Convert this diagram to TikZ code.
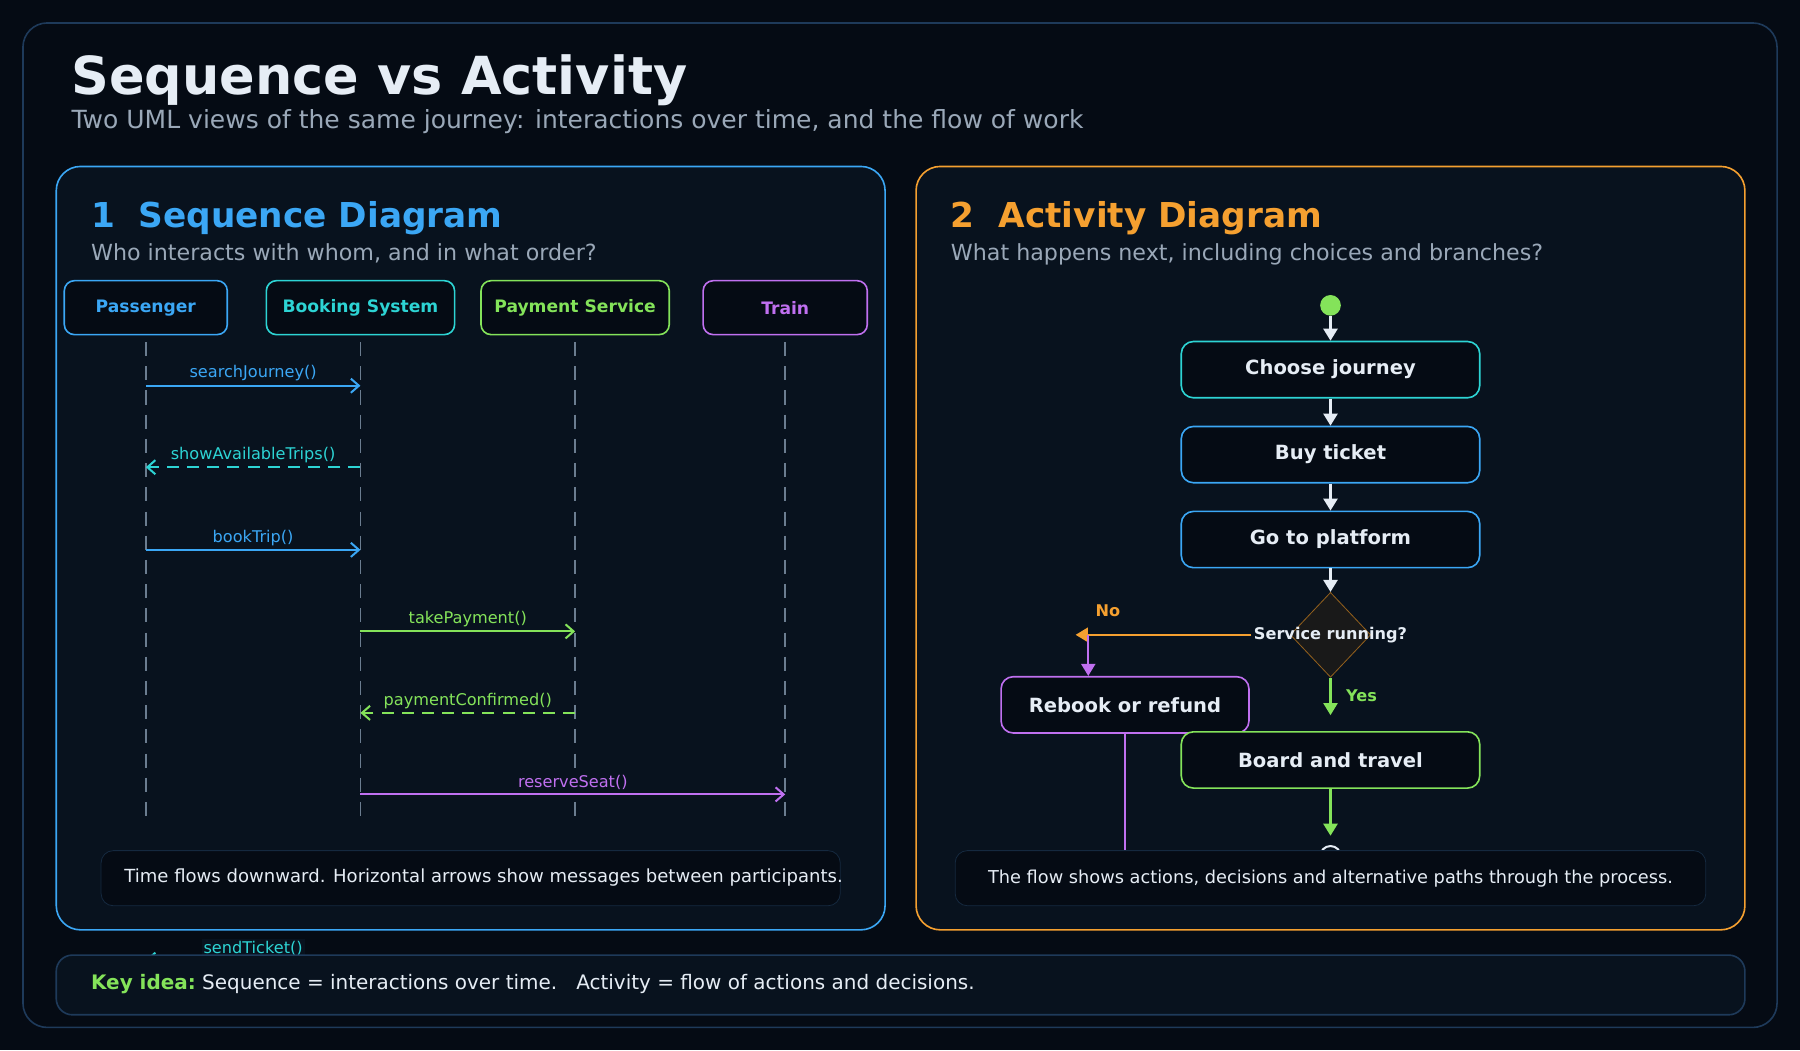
\documentclass[tikz,border=0pt]{standalone}
\usepackage{fontspec}
\setmainfont{DejaVu Sans}
\usetikzlibrary{arrows.meta,shapes.geometric,positioning}
\definecolor{bgdark}{HTML}{050B14}
\definecolor{panel}{HTML}{08121E}
\definecolor{edge}{HTML}{1E3A5A}
\definecolor{seqblue}{HTML}{3BA7F5}
\definecolor{seqcyan}{HTML}{2DD4D4}
\definecolor{seqgreen}{HTML}{84E35A}
\definecolor{seqpurple}{HTML}{C070F0}
\definecolor{actorange}{HTML}{F5A030}
\definecolor{txtwhite}{HTML}{E6EDF5}
\definecolor{txtgrey}{HTML}{9AA8B8}
\definecolor{lifegrey}{HTML}{6B7D90}
\tikzset{
  Actor/.style = {draw=#1,text=#1,fill=bgdark,rounded corners=5pt,line width=0.8pt,
                  minimum height=0.94cm,inner sep=0pt,font=\fontsize{8.5}{10}\selectfont\bfseries},
  Action/.style = {draw=#1,text=txtwhite,fill=bgdark,rounded corners=6pt,line width=0.8pt,
                  minimum width=5.2cm,minimum height=0.98cm,inner sep=0pt,font=\fontsize{9.7}{11}\selectfont\bfseries},
  Msg/.style = {draw=#1,line width=1pt,-{Straight Barb[length=4pt,width=7pt]}},
  call/.style = {solid},
  reply/.style = {dash pattern=on 6pt off 4pt},
  MsgLabel/.style = {text=#1,font=\fontsize{8}{9}\selectfont,inner sep=1pt},
  Flow/.style = {draw=#1,line width=1.2pt,-{Triangle[length=6pt,width=7pt]}},
  Note/.style = {draw=edge!70!black,fill=bgdark,rounded corners=6pt,text=txtwhite,
                 minimum height=0.96cm,inner sep=0pt},
}
\begin{document}
\begin{tikzpicture}[x=0.02cm,y=-0.02cm]
  \useasboundingbox[fill=bgdark] (0,0) rectangle (1568,915);
  % frame
  \draw[edge,fill=bgdark,line width=0.8pt,rounded corners=12pt] (20,20) rectangle (1548,895);
  \node[anchor=base west,text=txtwhite,font=\fontsize{26}{30}\selectfont\bfseries,inner sep=0pt] (title) at (62,82) {Sequence vs Activity};
  \node[anchor=base west,text=txtgrey,font=\fontsize{12.4}{14}\selectfont,inner sep=0pt] (subtitle) at (62,112) {Two UML views of the same journey: interactions over time, and the flow of work};
  % panels
  \draw[seqblue,fill=panel,line width=0.8pt,rounded corners=12pt] (49,145) rectangle (771,810);
  \draw[actorange,fill=panel,line width=0.8pt,rounded corners=12pt] (798,145) rectangle (1520,810);
  \node[anchor=base west,text=seqblue,font=\fontsize{17}{20}\selectfont\bfseries,inner sep=0pt] (seqhead) at (79,198) {1\ \ Sequence Diagram};
  \node[anchor=base west,text=txtgrey,font=\fontsize{11}{13}\selectfont,inner sep=0pt] (seqsub) at (79,227) {Who interacts with whom, and in what order?};
  \node[anchor=base west,text=actorange,font=\fontsize{17}{20}\selectfont\bfseries,inner sep=0pt] (acthead) at (828,198) {2\ \ Activity Diagram};
  \node[anchor=base west,text=txtgrey,font=\fontsize{11}{13}\selectfont,inner sep=0pt] (actsub) at (828,227) {What happens next, including choices and branches?};
  % participants
  \node[Actor=seqblue,minimum width=2.84cm] (pas) at (127,268) {Passenger};
  \node[Actor=seqcyan,minimum width=3.28cm] (bks) at (314,268) {Booking System};
  \node[Actor=seqgreen,minimum width=3.28cm] (pay) at (501,268) {Payment Service};
  \node[Actor=seqpurple,minimum width=2.86cm] (trn) at (684,268) {Train};
  \foreach \p/\x in {pas/127,bks/314,pay/501,trn/684}{
    \coordinate (\p top) at (\x,298);
    \coordinate (\p bot) at (\x,712);
    \draw[lifegrey,line width=0.8pt,dash pattern=on 7pt off 5pt] (\p top) -- (\p bot);
  }
  % messages
  \foreach \y/\a/\b/\c/\d/\t in {336/pas/bks/seqblue/call/searchJourney(),
                                407/bks/pas/seqcyan/reply/showAvailableTrips(),
                                479/pas/bks/seqblue/call/bookTrip(),
                                550/bks/pay/seqgreen/call/takePayment(),
                                621/pay/bks/seqgreen/reply/paymentConfirmed(),
                                692/bks/trn/seqpurple/call/reserveSeat(),
                                836/bks/pas/seqcyan/reply/sendTicket()}{
    \coordinate (m1) at (\a top |- 0,\y);
    \coordinate (m2) at (\b top |- 0,\y);
    \draw[Msg=\c,\d] (m1) -- (m2);
    \path (m1) -- node[MsgLabel=\c,fill=panel,above=1pt] {\t} (m2);
  }
  \node[Note,minimum width=12.88cm] (seqnote) at (410,765) {};
  \node[anchor=west,text=txtwhite,inner sep=0pt,font=\fontsize{8.95}{10}\selectfont] (seqnotetext) at (108,764) {Time flows downward. Horizontal arrows show messages between participants.};
  % activity
  \node[circle,fill=seqgreen,minimum size=0.36cm,inner sep=0pt] (start) at (1159,266) {};
  \node[Action=seqcyan] (choose) at (1159,322) {Choose journey};
  \node[Action=seqblue] (buy) at (1159,396) {Buy ticket};
  \node[Action=seqblue] (go) at (1159,470) {Go to platform};
  \node[diamond,draw=actorange!60!black,fill=black!80!gray,minimum width=1.4cm,minimum height=1.48cm,inner sep=0pt] (dec) at (1159,553) {};
  \node[circle,draw=txtwhite,line width=1pt,minimum size=0.36cm,inner sep=0pt] (end) at (1159,746) {};
  \draw[Flow=txtwhite] (start) -- (choose);
  \draw[Flow=txtwhite] (choose) -- (buy);
  \draw[Flow=txtwhite] (buy) -- (go);
  \draw[Flow=txtwhite] (go) -- (dec);
  \coordinate (noend) at (937,553);
  \coordinate (nostart) at (1090,553);
  \draw[Flow=actorange,line width=1pt] (nostart) -- (noend);
  \node[text=actorange,font=\fontsize{8}{9}\selectfont\bfseries] (nolbl) at (965,532) {No};
  \node[Action=seqpurple,minimum width=4.32cm] (rebook) at (980,614) {Rebook or refund};
  \coordinate (nodrop) at (948,553);
  \draw[Flow=seqpurple,line width=1pt] (nodrop) -- (nodrop |- rebook.north);
  \node[Action=seqgreen] (board) at (1159,662) {Board and travel};
  \coordinate (yesend) at (1159,623);
  \draw[Flow=seqgreen,line width=1pt] (dec) -- (yesend);
  \node[text=seqgreen,font=\fontsize{8}{9}\selectfont\bfseries] (yeslbl) at (1186,606) {Yes};
  \node[text=txtwhite,font=\fontsize{8}{9}\selectfont\bfseries] (declbl) at (dec) {Service running?};
  \coordinate (boardend) at (1159,728);
  \draw[Flow=seqgreen] (board) -- (boardend);
  \coordinate (rebookend) at (980,745);
  \draw[seqpurple,line width=1.2pt] (rebook) -- (rebookend);
  \node[Note,minimum width=13.08cm,font=\fontsize{8.8}{10}\selectfont] (actnote) at (1159,765) {The flow shows actions, decisions and alternative paths through the process.};
  % key idea
  \draw[edge,fill=panel,line width=0.8pt,rounded corners=8pt] (49,832) rectangle (1520,884);
  \node[anchor=base west,inner sep=0pt,font=\fontsize{9.9}{11}\selectfont] (key) at (79,862) {\textcolor{seqgreen}{\bfseries Key idea:}\ \textcolor{txtwhite}{Sequence = interactions over time.\ \ \ Activity = flow of actions and decisions.}};
\end{tikzpicture}
\end{document}
